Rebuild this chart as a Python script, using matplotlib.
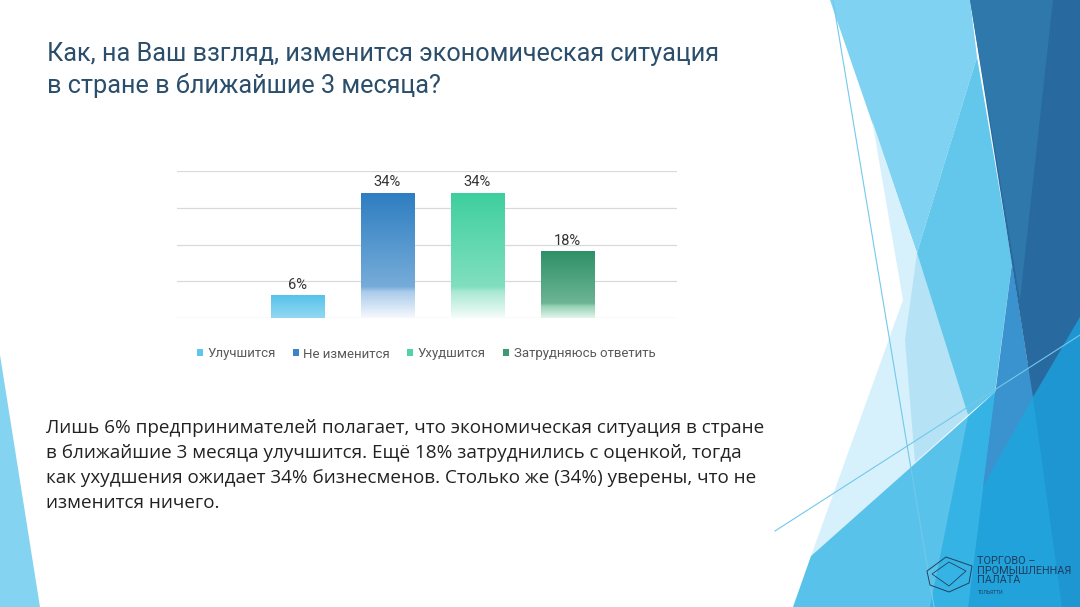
import numpy as np
import matplotlib
matplotlib.use('Agg')
import matplotlib.pyplot as plt
from matplotlib.colors import LinearSegmentedColormap
from matplotlib.patches import Polygon, Patch
from matplotlib.lines import Line2D

# We keep the chart data at the top
categories = ['Улучшится', 'Не изменится', 'Ухудшится', 'Затрудняюсь ответить']
values = [6, 34, 34, 18]
value_labels = ['6%', '34%', '34%', '18%']
y_ticks = [0, 10, 20, 30, 40]

title_lines = ['Как, на Ваш взгляд, изменится экономическая ситуация',
               'в стране в ближайшие 3 месяца?']
body_lines = ['Лишь 6% предпринимателей полагает, что экономическая ситуация в стране',
              'в ближайшие 3 месяца улучшится. Ещё 18% затруднились с оценкой, тогда',
              'как ухудшения ожидает 34% бизнесменов. Столько же (34%) уверены, что не',
              'изменится ничего.']
logo_lines = ['ТОРГОВО –', 'ПРОМЫШЛЕННАЯ', 'ПАЛАТА']
logo_city = 'ТОЛЬЯТТИ'

# gradient stops for every bar, top -> bottom
bar_gradients = [
    [(0.0, '#56c3ea'), (1.0, '#93d8f2')],
    [(0.0, '#2e7ec1'), (0.75, '#76acd9'), (0.79, '#a9cbea'), (1.0, '#f6f9fd')],
    [(0.0, '#3ecf9e'), (0.75, '#81dfc0'), (0.79, '#a9e9d4'), (1.0, '#f5fcf9')],
    [(0.0, '#2e9066'), (0.78, '#6db594'), (0.82, '#93d0b3'), (1.0, '#e3f5ec')],
]
legend_colors = ['#5cc6ec', '#3a86c8', '#52d3a6', '#3f9a72']

W, H = 1080, 607

fig = plt.figure(figsize=(10.8, 6.07), dpi=100)
fig.patch.set_facecolor('white')


def px(pts):
    """pixel coords (y down) -> figure fraction"""
    return [(x / W, 1 - y / H) for x, y in pts]


# We draw the decoration of the slide (right side facets)
deco = [
    ('#7fd2f1', [(830, 0), (970, 0), (977, 57), (917, 253)]),
    ('#d6f1fb', [(872, 120), (917, 253), (968, 415), (900, 477), (811, 556), (903, 300)]),
    ('#b5e3f5', [(917, 253), (968, 415), (915, 462), (905, 340)]),
    ('#63c7eb', [(977, 57), (1012, 263), (995, 392), (968, 415), (917, 253)]),
    ('#58c2ea', [(811, 556), (1080, 317), (1080, 607), (793, 607)]),
    ('#36b3e5', [(968, 417), (995, 392), (968, 607), (930, 607)]),
    ('#22a2da', [(995, 392), (1080, 317), (1080, 607), (968, 607)]),
    ('#1d96d1', [(1033, 397), (1080, 317), (1080, 607), (1062, 607)]),
    ('#3a93cf', [(1012, 263), (1033, 397), (983, 487)]),
    ('#28699f', [(970, 0), (1080, 0), (1080, 317), (1033, 397)]),
    ('#2e78ac', [(970, 0), (1053, 0), (1020, 300)]),
    ('#84d3f1', [(0, 355), (0, 607), (40, 607)]),
]
for color, pts in deco:
    fig.add_artist(Polygon(px(pts), closed=True, facecolor=color, edgecolor='none',
                           transform=fig.transFigure, zorder=0))

for (x0, y0), (x1, y1) in [((833, 0), (934, 607)), ((775, 531), (1080, 335))]:
    (fx0, fy0), (fx1, fy1) = px([(x0, y0), (x1, y1)])
    fig.add_artist(Line2D([fx0, fx1], [fy0, fy1], color='#72c8ec', lw=0.8,
                          transform=fig.transFigure, zorder=1))

# logo emblem
emblem = [(927, 571), (946, 557), (972, 566), (969, 583), (949, 592), (930, 585)]
fig.add_artist(Polygon(px(emblem), closed=True, facecolor='none', edgecolor='#22415e',
                       lw=0.7, transform=fig.transFigure, zorder=2))
fig.add_artist(Polygon(px([(932, 574), (949, 562), (966, 571), (949, 586)]), closed=True,
                       facecolor='none', edgecolor='#22415e', lw=0.6,
                       transform=fig.transFigure, zorder=2))
for i, line in enumerate(logo_lines):
    fig.text(977 / W, 1 - (561 + i * 9.5) / H, line, fontsize=7.8, color='#1f3d5c',
             family='Roboto', va='center', ha='left')
fig.text(978 / W, 1 - 593 / H, logo_city, fontsize=3.6, color='#1f3d5c',
         family='Roboto', va='center', ha='left')

# title and comment text
for i, line in enumerate(title_lines):
    fig.text(47 / W, 1 - (54 + i * 32) / H, line, fontsize=18.2, color='#2a4e6b',
             family='Roboto', va='center', ha='left')
for i, line in enumerate(body_lines):
    fig.text(46 / W, 1 - (428 + i * 25) / H, line, fontsize=13.6, color='#222222',
             family='Open Sans', va='center', ha='left')

# We create the bar chart
ax = fig.add_axes([177 / W, 1 - 318 / H, 500 / W, 147 / H])
ax.set_facecolor('none')
x = np.arange(len(categories))
bars = ax.bar(x, values, width=0.593, color='none', edgecolor='none', zorder=2)

for bar, stops in zip(bars, bar_gradients):
    cmap = LinearSegmentedColormap.from_list('g', stops)
    grad = cmap(np.linspace(0, 1, 256))[:, None, :]
    bx, bw, bh = bar.get_x(), bar.get_width(), bar.get_height()
    ax.imshow(grad, extent=(bx, bx + bw, 0, bh), origin='upper', aspect='auto',
              interpolation='bilinear', zorder=2)

for xi, v, lab in zip(x, values, value_labels):
    ax.annotate(lab, (xi, v), xytext=(0, 3), textcoords='offset points',
                ha='center', va='bottom', fontsize=10.5, color='#333333', family='Roboto')

ax.set_xlim(-1.337, 4.219)
ax.set_ylim(0, 40)
ax.set_yticks(y_ticks)
ax.grid(axis='y', color='#d9d9d9', lw=0.9, zorder=0)
ax.set_axisbelow(True)
ax.tick_params(left=False, bottom=False, labelleft=False, labelbottom=False)
for s in ax.spines.values():
    s.set_visible(False)

handles = [Patch(facecolor=c, edgecolor='none') for c in legend_colors]
fig.legend(handles, categories, loc='center', bbox_to_anchor=(426 / W, 1 - 354 / H),
           ncol=4, frameon=False, handlelength=0.45, handleheight=0.45,
           handletextpad=0.35, columnspacing=1.3,
           prop={'family': 'Roboto', 'size': 9.5}, labelcolor='#595959')

fig.savefig('out.png', dpi=100, facecolor='white')
